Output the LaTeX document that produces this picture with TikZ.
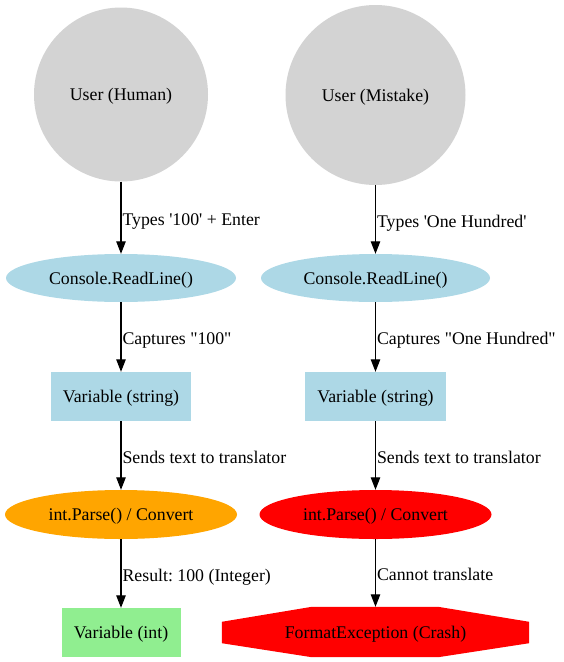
\documentclass[tikz,border=0pt]{standalone}
\usepackage{fontspec}
\newfontfamily\gvfont{Liberation Serif}
\usetikzlibrary{arrows.meta,shapes.geometric,backgrounds,calc}
\definecolor{gvgray}{HTML}{D3D3D3}
\definecolor{gvblue}{HTML}{ADD8E6}
\definecolor{gvorange}{HTML}{FFA500}
\definecolor{gvred}{HTML}{FF0000}
\definecolor{gvgreen}{HTML}{90EE90}
\frenchspacing
\tikzset{
  every node/.style={font=\gvfont\fontsize{17.8}{20}\selectfont\frenchspacing, inner sep=0pt, text height=12pt, text depth=0pt},
  usercirc/.style={circle, fill=gvgray},
  ioell/.style={ellipse, fill=gvblue, minimum width=230, minimum height=48},
  varbox/.style={rectangle, fill=gvblue, minimum width=141, minimum height=49},
  okell/.style={ellipse, fill=gvorange, minimum width=232, minimum height=49},
  badell/.style={ellipse, fill=gvred, minimum width=232, minimum height=49},
  intbox/.style={rectangle, fill=gvgreen, minimum width=119, minimum height=49},
  crashbox/.style={rectangle, minimum width=307, minimum height=50},
  arr/.style={line width=1.1pt, -{Triangle[length=12.5pt,width=9.5pt]}},
  elabel/.style={anchor=west, xshift=1pt, yshift=-1.5pt}
}
\begin{document}
\begin{tikzpicture}[x=1pt,y=-1pt]
\useasboundingbox (0,0) rectangle (564,662);
% left column
\node[usercirc, minimum size=174] (uh) at (121,94.5) {User (Human)};
\node[ioell] (cl) at (121,278) {Console.ReadLine()};
\node[varbox, minimum width=140] (vl) at (121,396.5) {Variable (string)};
\node[okell] (pl) at (121,514.5) {int.Parse() / Convert};
\node[intbox] (il) at (121,632.5) {Variable (int)};
% right column
\node[usercirc, minimum size=180] (um) at (375.5,95) {User (Mistake)};
\node[ioell, minimum width=229] (cr) at (375.5,278) {Console.ReadLine()};
\node[varbox] (vr) at (375.5,396.5) {Variable (string)};
\node[badell] (pr) at (375.5,514.5) {int.Parse() / Convert};
\node[crashbox] (fx) at (375.5,632) {FormatException (Crash)};
\begin{pgfonlayer}{background}
\fill[gvred] ($(fx.north west)+(90,0)$) -- ($(fx.north east)+(-91,0)$)
  -- ($(fx.north east)+(0,15)$) -- ($(fx.south east)+(0,-14)$)
  -- ($(fx.south east)+(-91,0)$) -- ($(fx.south west)+(90,0)$)
  -- ($(fx.south west)+(0,-14)$) -- ($(fx.north west)+(0,15)$) -- cycle;
\end{pgfonlayer}
% edges
\draw[arr] (uh) -- (cl) node[midway, elabel] {Types '100' + Enter};
\draw[arr] (cl) -- (vl) node[midway, elabel] {Captures "100"};
\draw[arr] (vl) -- (pl) node[midway, elabel] {Sends text to translator};
\draw[arr] (pl) -- (il) node[midway, elabel] {Result: 100 (Integer)};
\draw[arr] (um) -- (cr) node[midway, elabel] {Types 'One Hundred'};
\draw[arr] (cr) -- (vr) node[midway, elabel] {Captures "One Hundred"};
\draw[arr] (vr) -- (pr) node[midway, elabel] {Sends text to translator};
\draw[arr] (pr) -- (fx) node[midway, elabel] {Cannot translate};
\end{tikzpicture}
\end{document}
